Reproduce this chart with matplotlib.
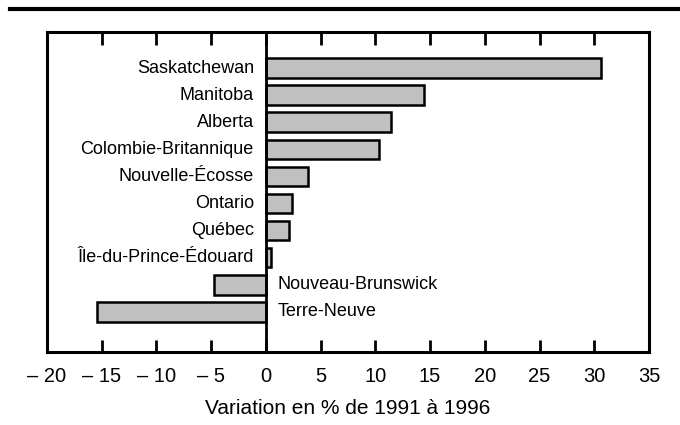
import matplotlib
matplotlib.use("Agg")
import matplotlib.pyplot as plt
from matplotlib.lines import Line2D

plt.rcParams['font.family'] = ['Liberation Sans', 'DejaVu Sans']

provinces = ["Saskatchewan", "Manitoba", "Alberta", "Colombie-Britannique",
             "Nouvelle-Écosse", "Ontario", "Québec", "Île-du-Prince-Édouard",
             "Nouveau-Brunswick", "Terre-Neuve"]
values = [30.6, 14.4, 11.4, 10.3, 3.8, 2.4, 2.1, 0.5, -4.7, -15.4]
xticks = [-20, -15, -10, -5, 0, 5, 10, 15, 20, 25, 30, 35]
xticklabels = ["– 20", "– 15", "– 10", "– 5", "0", "5", "10", "15", "20", "25", "30", "35"]
xlabel = "Variation en % de 1991 à 1996"

fig = plt.figure(figsize=(6.8, 4.25), dpi=100)
ax = fig.add_axes([47/680, 1-352/425, (649-47)/680, (352-32)/425])

pos = list(range(len(provinces)))
ax.barh(pos, values, height=0.72, color="#c0c0c0", edgecolor="black", linewidth=1.8, zorder=2)
ax.axvline(0, color="black", linewidth=2, zorder=3)

for p, v, name in zip(pos, values, provinces):
    if v >= 0:
        ax.text(-1.1, p, name, ha="right", va="center", fontsize=13)
    else:
        ax.text(1.1, p, name, ha="left", va="center", fontsize=13)

ax.set_xlim(-20, 35)
ax.set_ylim(10.48, -1.33)
ax.set_yticks([])
ax.set_xticks(xticks)
ax.set_xticklabels(xticklabels, fontsize=14.5)
ax.tick_params(axis="x", direction="in", length=9, width=2, top=True, bottom=True, pad=11)
for s in ax.spines.values():
    s.set_linewidth(2.2)
ax.set_xlabel(xlabel, fontsize=15, labelpad=9)

fig.add_artist(Line2D([10/680, 1.0], [1-9/425, 1-9/425], color="black", linewidth=3, transform=fig.transFigure))

fig.savefig("out.png", dpi=100)
